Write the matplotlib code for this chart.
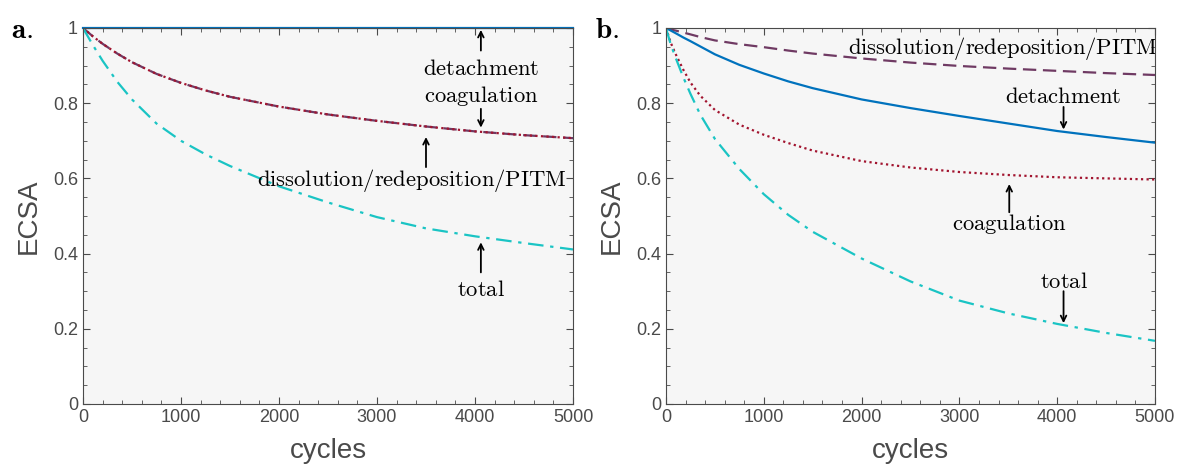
import numpy as np
import matplotlib.pyplot as plt
from matplotlib.ticker import MultipleLocator, FormatStrFormatter

plt.rcParams['mathtext.fontset'] = 'cm'
plt.rcParams['font.family'] = ['Liberation Sans', 'DejaVu Sans']

# panel a
cycles_a = [0, 100, 200, 350, 500, 750, 1000, 1250, 1500, 2000, 2500, 3000, 3500, 4000, 4500, 5000]
detach_a = [1.0] * len(cycles_a)
coag_a = [1.0, 0.978, 0.958, 0.932, 0.909, 0.878, 0.854, 0.834, 0.817, 0.791, 0.770, 0.753, 0.738, 0.725, 0.715, 0.707]
diss_a = coag_a
total_a = [1.0, 0.955, 0.913, 0.857, 0.81, 0.746, 0.700, 0.664, 0.633, 0.579, 0.536, 0.497, 0.467, 0.446, 0.428, 0.411]

# panel b
cycles_b = [0, 50, 100, 175, 250, 350, 500, 750, 1000, 1250, 1500, 2000, 2500, 3000, 3500, 4000, 4500, 5000]
detach_b = [1.0, 0.993, 0.986, 0.975, 0.965, 0.951, 0.930, 0.902, 0.879, 0.858, 0.840, 0.810, 0.787, 0.766, 0.746, 0.726, 0.710, 0.695]
coag_b = [1.0, 0.96, 0.93, 0.89, 0.855, 0.82, 0.782, 0.743, 0.716, 0.694, 0.674, 0.646, 0.629, 0.617, 0.609, 0.603, 0.600, 0.597]
diss_b = [1.0, 0.996, 0.993, 0.988, 0.983, 0.976, 0.967, 0.957, 0.949, 0.940, 0.932, 0.919, 0.908, 0.899, 0.892, 0.886, 0.880, 0.875]
total_b = [1.0, 0.955, 0.92, 0.87, 0.825, 0.77, 0.705, 0.625, 0.558, 0.503, 0.458, 0.387, 0.326, 0.275, 0.241, 0.213, 0.189, 0.168]

blue = '#0072BD'
red = '#A2142F'
purple = '#6F3A63'
cyan = '#1AC4C4'
gray = '#4a4a4a'

fig = plt.figure(figsize=(11.8, 4.65), dpi=100)
ax1 = fig.add_axes([0.0703, 0.1312, 0.4153, 0.8086])
ax2 = fig.add_axes([0.5644, 0.1312, 0.4144, 0.8086])

ax1.plot(cycles_a, detach_a, color=blue, lw=1.6, clip_on=False)
ax1.plot(cycles_a, diss_a, color=purple, lw=1.6, ls=(0, (6, 3)))
ax1.plot(cycles_a, coag_a, color=red, lw=1.6, ls=(0, (1, 1.5)))
ax1.plot(cycles_a, total_a, color=cyan, lw=1.6, ls=(0, (7, 3, 1.5, 3)))

ax2.plot(cycles_b, diss_b, color=purple, lw=1.6, ls=(0, (6, 3)))
ax2.plot(cycles_b, detach_b, color=blue, lw=1.6)
ax2.plot(cycles_b, coag_b, color=red, lw=1.6, ls=(0, (1, 1.5)))
ax2.plot(cycles_b, total_b, color=cyan, lw=1.6, ls=(0, (7, 3, 1.5, 3)))

for ax in (ax1, ax2):
    ax.set_facecolor('#f6f6f6')
    ax.set_xlim(0, 5000)
    ax.set_ylim(0, 1)
    ax.xaxis.set_major_locator(MultipleLocator(1000))
    ax.xaxis.set_minor_locator(MultipleLocator(200))
    ax.yaxis.set_major_locator(MultipleLocator(0.2))
    ax.yaxis.set_minor_locator(MultipleLocator(0.05))
    ax.yaxis.set_major_formatter(FormatStrFormatter('%g'))
    ax.tick_params(which='both', direction='in', top=True, right=True, colors=gray, labelsize=13)
    ax.tick_params(which='major', length=5, width=0.8)
    ax.tick_params(which='minor', length=3, width=0.6)
    for s in ax.spines.values():
        s.set_color(gray)
    ax.set_xlabel('cycles', fontsize=20, color=gray, labelpad=9)
    ax.set_ylabel('ECSA', fontsize=20, color=gray, labelpad=8)

tfs = 16.3
arrow = dict(arrowstyle='->', lw=1.3, color='black', shrinkA=0, shrinkB=0)

def note(ax, text, pos, tail=None, head=None):
    t = ax.text(pos[0], pos[1], r'$\mathrm{' + text + '}$', fontsize=tfs, ha='center', va='center')
    t.set_clip_on(True)
    if tail is not None:
        ax.annotate('', xy=head, xytext=tail, arrowprops=arrow)

note(ax1, 'detachment', (4060, 0.893), (4060, 0.94), (4060, 0.995))
note(ax1, 'coagulation', (4060, 0.818), (4060, 0.785), (4060, 0.735))
note(ax1, 'dissolution/redeposition/PITM', (3355, 0.595), (3500, 0.63), (3500, 0.71))
note(ax1, 'total', (4060, 0.305), (4060, 0.35), (4060, 0.43))

note(ax2, 'dissolution/redeposition/PITM', (3440, 0.945))
note(ax2, 'detachment', (4065, 0.818), (4065, 0.79), (4065, 0.73))
note(ax2, 'coagulation', (3510, 0.48), (3510, 0.51), (3510, 0.585))
note(ax2, 'total', (4065, 0.325), (4065, 0.30), (4065, 0.215))

fig.text(0.0185, 0.935, r'$\mathbf{a.}$', fontsize=21, ha='center', va='center')
fig.text(0.514, 0.935, r'$\mathbf{b.}$', fontsize=21, ha='center', va='center')

fig.savefig('out.png', dpi=100)
